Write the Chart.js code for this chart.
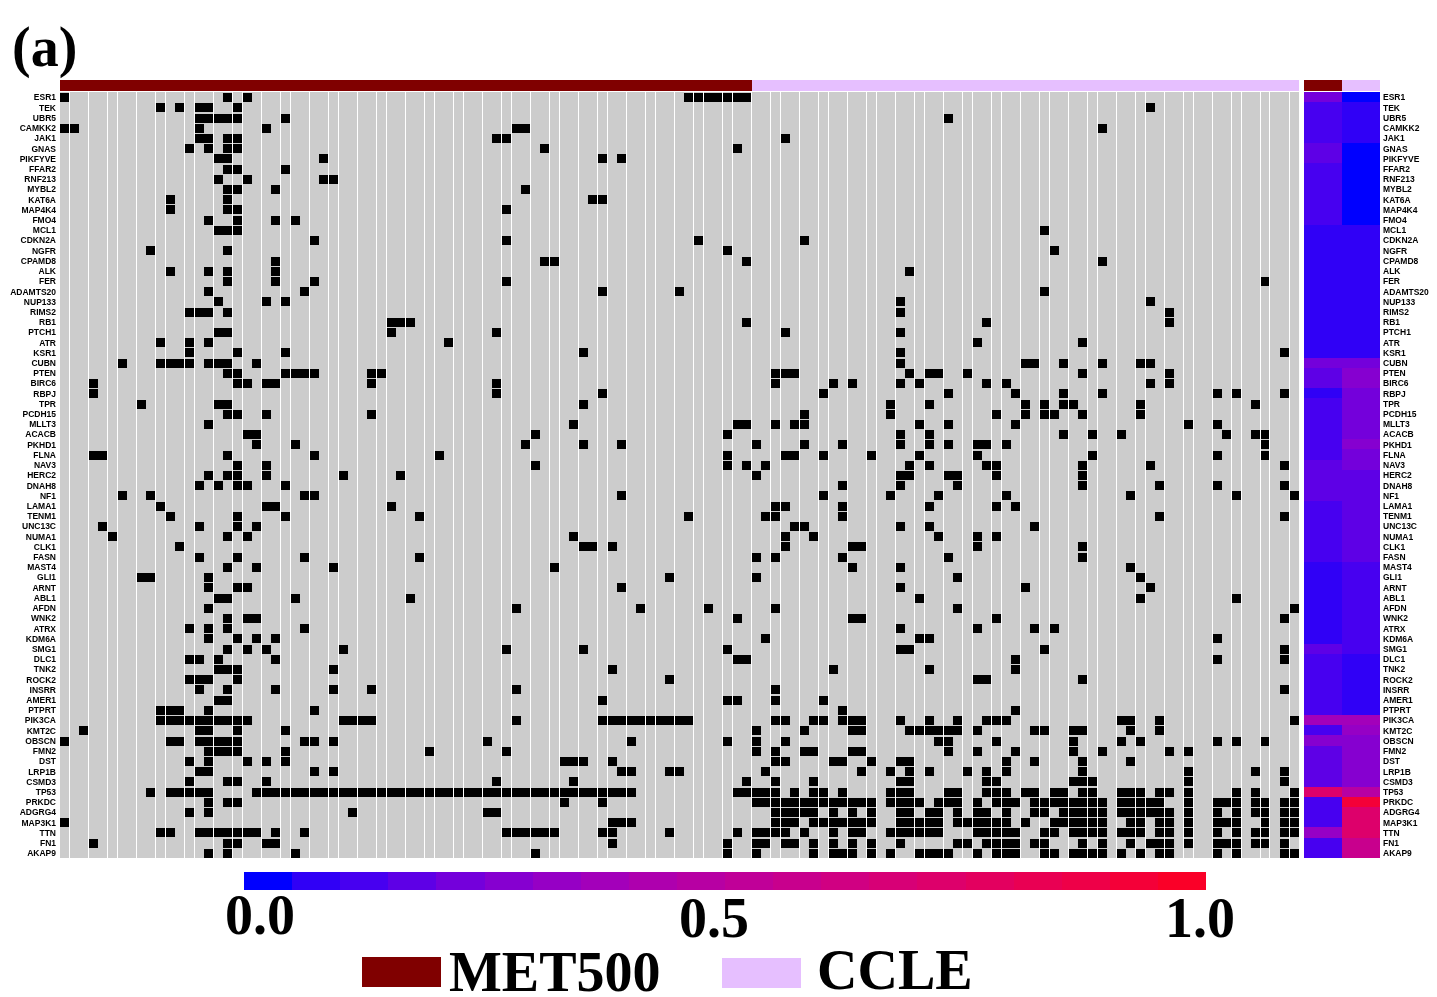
<!DOCTYPE html>
<html lang="en">
<head>
<meta charset="UTF-8">
<title>MET500 vs CCLE mutations</title>
<script src="https://cdn.jsdelivr.net/npm/chart.js@4"></script>
<style>
    html, body { margin: 0; background: #fff; overflow: hidden; }
    body { width: 1437px; height: 997px; position: relative; }
    canvas { position: absolute; }
    .big { position: absolute; font: bold 56px/56px 'Liberation Serif', serif; color: #000; white-space: nowrap; }
    .swatch { position: absolute; width: 79px; height: 30px; }
</style>
</head>
<body>
<span class="big" style="left:12px;top:19px">(a)</span>

<canvas id="annoMain" width="1239" height="11" style="left:60px;top:80px"></canvas>
<canvas id="annoSide" width="76" height="11" style="left:1304px;top:80px"></canvas>
<canvas id="main" width="1299" height="766" style="left:0;top:92px"></canvas>
<canvas id="side" width="133" height="766" style="left:1304px;top:92px"></canvas>
<canvas id="colorbar" width="962" height="18" style="left:244px;top:872px"></canvas>

<span class="big" id="tick0" style="top:887px"></span>
<span class="big" id="tick1" style="top:890px"></span>
<span class="big" id="tick2" style="top:890px"></span>

<div class="swatch" style="left:362px;top:957px;background:#800000"></div>
<span class="big" id="legend0" style="left:449px;top:944px"></span>
<div class="swatch" style="left:722px;top:958px;background:#E6BFFF"></div>
<span class="big" id="legend1" style="left:817px;top:942px"></span>

<script>
const genes = ["ESR1","TEK","UBR5","CAMKK2","JAK1","GNAS","PIKFYVE","FFAR2","RNF213","MYBL2","KAT6A","MAP4K4","FMO4","MCL1","CDKN2A","NGFR","CPAMD8","ALK","FER","ADAMTS20","NUP133","RIMS2","RB1","PTCH1","ATR","KSR1","CUBN","PTEN","BIRC6","RBPJ","TPR","PCDH15","MLLT3","ACACB","PKHD1","FLNA","NAV3","HERC2","DNAH8","NF1","LAMA1","TENM1","UNC13C","NUMA1","CLK1","FASN","MAST4","GLI1","ARNT","ABL1","AFDN","WNK2","ATRX","KDM6A","SMG1","DLC1","TNK2","ROCK2","INSRR","AMER1","PTPRT","PIK3CA","KMT2C","OBSCN","FMN2","DST","LRP1B","CSMD3","TP53","PRKDC","ADGRG4","MAP3K1","TTN","FN1","AKAP9"];

const groups = ["MET500","CCLE"];
const groupSizes = [72, 57];
const groupColors = ["#800000","#E6BFFF"];

// samples carrying a mutation, one list per gene (same order as genes)
const mutated = [
[0,17,19,65,66,67,68,69,70,71],
[10,12,14,15,18,113],
[14,15,16,17,18,23,92],
[0,1,14,21,47,48,108],
[14,15,17,18,45,46,75],
[13,15,17,18,50,70],
[16,17,27,56,58],
[17,18,23],
[16,19,27,28],
[17,18,22,48],
[11,17,55,56],
[11,17,18,46],
[15,18,22,24],
[16,17,18,102],
[26,46,66,77],
[9,17,69,103],
[22,50,51,71,108],
[11,15,17,22,88],
[17,22,26,46,125],
[15,25,56,64,102],
[16,21,23,87,113],
[13,14,15,17,87,115],
[34,35,36,71,96,115],
[16,17,34,45,75,87],
[10,13,15,40,95,106],
[13,18,23,54,87,127],
[6,10,11,12,13,15,16,17,20,87,100,101,104,108,112,113],
[17,18,23,24,25,26,32,33,74,75,76,88,90,91,94,106,115],
[3,18,19,21,22,32,45,74,80,82,87,89,96,98,113,115],
[3,45,56,79,92,99,104,108,120,122,127],
[8,16,17,54,86,90,100,102,104,105,112,124],
[17,18,21,32,77,86,97,100,102,103,106,112],
[15,53,70,71,74,76,77,89,92,99,117,120],
[19,20,49,69,87,90,104,107,110,121,124,125],
[20,24,48,54,58,72,77,81,87,90,92,95,96,98,125],
[3,4,17,26,39,69,75,76,79,84,89,95,107,120,125],
[18,21,49,69,71,73,88,90,96,97,106,113,127],
[15,17,18,21,29,35,72,87,88,92,93,97,106],
[14,16,18,19,23,81,87,93,106,114,120,127],
[6,9,25,26,58,79,86,91,98,111,122,128],
[10,21,22,34,74,75,81,90,97,99],
[11,18,23,37,65,73,74,81,114,127],
[4,14,18,20,76,77,87,90,101],
[5,17,19,53,75,78,91,95,97],
[12,54,55,57,75,82,83,95,106],
[14,18,25,37,72,74,81,92,106],
[17,20,28,51,82,87,111],
[8,9,15,63,72,93,112],
[15,18,19,58,87,100,113],
[16,17,24,36,89,112,122],
[15,47,60,67,74,93,128],
[17,19,20,70,82,83,97,127],
[13,15,17,25,87,95,101,103],
[15,18,20,22,73,89,90,120],
[17,19,21,29,46,54,69,87,88,102,127],
[13,14,16,22,70,71,99,120,127],
[16,17,18,28,57,80,90,99],
[13,14,15,18,63,95,96,106],
[14,17,22,28,32,47,74,127],
[16,17,56,69,70,74,79],
[10,11,12,15,26,81,99],
[10,11,12,13,14,15,16,17,18,19,29,30,31,32,47,56,57,58,59,60,61,62,63,64,65,74,75,78,79,81,82,83,87,90,93,96,97,98,110,111,114,128],
[2,14,15,18,23,72,77,82,83,88,89,90,91,92,93,95,101,102,105,106,111,114],
[0,11,12,14,15,16,17,18,25,26,28,44,59,69,72,75,91,92,97,105,110,112,120,122,125],
[15,16,17,18,23,38,46,72,74,77,78,82,83,92,95,99,105,108,115,117],
[13,15,19,21,23,52,53,54,57,74,75,80,81,84,87,88,98,101,106,111],
[14,15,26,28,58,59,63,64,73,83,86,88,90,94,96,98,106,117,124,127],
[13,17,18,21,45,53,71,74,78,87,88,96,97,105,106,107,117,127],
[9,11,12,13,14,15,20,21,22,23,24,25,26,27,28,29,30,31,32,33,34,35,36,37,38,39,40,41,42,43,44,45,46,47,48,49,50,51,52,53,54,55,56,57,58,59,70,71,72,73,74,76,78,79,81,86,87,88,92,93,96,97,98,100,101,103,104,106,107,110,111,112,114,115,117,122,124,128],
[15,17,18,52,56,72,73,74,75,76,77,78,79,80,81,82,83,84,86,87,88,89,91,92,93,95,97,98,99,101,102,103,104,105,106,107,108,110,111,112,113,114,117,120,121,122,124,125,127,128],
[13,15,30,44,45,74,75,76,77,78,80,82,84,87,88,90,91,93,95,96,98,101,102,104,105,106,107,108,110,111,112,113,114,115,117,120,122,124,125,127,128],
[0,57,58,59,74,75,76,78,79,80,81,82,83,84,87,88,89,90,91,93,94,95,96,97,98,100,103,104,105,106,107,108,111,112,114,115,117,120,121,122,125,127,128],
[10,11,14,15,16,17,18,19,20,22,25,46,47,48,49,50,51,56,57,63,70,72,73,74,75,77,80,82,83,86,87,88,89,90,91,95,96,97,98,99,102,103,105,106,107,108,110,111,112,114,115,117,120,122,124,125,127,128],
[3,17,18,21,22,57,69,72,73,75,76,78,80,82,84,87,93,94,96,97,98,99,101,102,106,108,111,113,114,115,117,120,121,122,124,125,127],
[15,17,24,49,69,72,78,80,81,82,84,86,89,90,91,92,95,97,98,99,102,103,105,106,107,108,110,112,114,115,120,122,127,128]
];

// mutation frequency per gene in each cohort
const freqMet500 = [.22,.13,.13,.13,.13,.16,.16,.1,.1,.1,.1,.1,.1,.08,.08,.08,.08,.08,.08,.08,.08,.08,.08,.08,.08,.08,.22,.18,.18,.07,.11,.1,.1,.1,.13,.13,.16,.16,.16,.16,.11,.1,.1,.1,.1,.1,.08,.08,.08,.08,.08,.08,.08,.08,.17,.13,.13,.13,.13,.13,.13,.38,.11,.27,.16,.18,.18,.18,.73,.11,.1,.1,.33,.13,.13];
const freqCcle = [0,.07,.07,.07,.07,0,0,0,0,0,0,0,0,.07,.07,.07,.07,.07,.07,.07,.07,.07,.07,.07,.07,.07,.2,.26,.26,.23,.23,.22,.22,.22,.27,.22,.22,.18,.18,.18,.16,.16,.16,.16,.16,.16,.1,.1,.1,.1,.1,.11,.11,.11,.11,.08,.08,.08,.06,.06,.06,.36,.33,.26,.27,.26,.26,.26,.48,.93,.73,.73,.73,.57,.57];

const colorSteps = ["#0000FF","#3000F6","#4700F0","#5E00E6","#7400DB","#8600D0","#9600C5","#A300BA","#AE00AE","#B700A3","#C00098","#C8008D","#D00082","#D70076","#DD006B","#E3005F","#E90053","#EE0048","#F40038","#FA0028"];
const colorTicks = ["0.0","0.5","1.0"];

// white seams between sample columns, as they fall in the figure
const seamCols = [1,3,5,6,8,10,11,13,14,16,18,19,21,23,24,26,28,29,31,33,34,36,38,39,41,42,44,46,47,49,51,52,54,56,57,59,61,62,64,66,67,69,70,72,74,75,77,79,80,82,84,85,87,89,90,92,94,95,97,98,100,102,103,105,107,108,110,112,113,115,117,118,120,122,123,125,126,128];

const stepColor = v => colorSteps[Math.min(colorSteps.length - 1, Math.floor(v * colorSteps.length))];

// bars land on whole pixels so the cells stay crisp like the original raster
function snapBars(chart, fixedHeight) {
    chart.getSortedVisibleDatasetMetas().forEach(meta => {
        meta.data.forEach(el => {
            const top = Math.round(el.y - el.height / 2 + (fixedHeight ? 0.5 : 0));
            const bottom = fixedHeight ? top + fixedHeight : Math.round(el.y + el.height / 2);
            el.y = (top + bottom) / 2;
            el.height = bottom - top;
            el.x = Math.round(el.x);
            el.base = Math.round(el.base);
        });
    });
}

// gene axis: fixed gutter, and no room kept for half a label above and below
function fitGeneAxis(axis, width) {
    axis.width = width;
    axis.paddingTop = 0;
    axis.paddingBottom = 0;
}

const baseOptions = {
    indexAxis: "y",
    responsive: false,
    animation: false,
    devicePixelRatio: 1,
    events: [],
    layout: { padding: 0 },
    plugins: { legend: { display: false }, tooltip: { enabled: false } }
};
const barStyle = { borderWidth: 0, inflateAmount: 0, barPercentage: 1, grouped: false };
const geneFont = { family: "'Liberation Sans', Arial, sans-serif", size: 8.5, weight: "bold" };

// Thin strip of consecutive coloured segments (annotation bars, colour scale)
function strip(id, sizes, colors) {
    let pos = 0;
    const data = sizes.map(s => { const seg = { x: [pos, pos + s], y: "a" }; pos += s; return seg; });
    new Chart(document.getElementById(id), {
        type: "bar",
        data: { labels: ["a"], datasets: [{ data, backgroundColor: colors, categoryPercentage: 1, ...barStyle }] },
        options: {
            ...baseOptions,
            scales: {
                x: { type: "linear", display: false, min: 0, max: pos },
                y: { type: "category", display: false }
            }
        },
        plugins: [{ id: "snap", afterDatasetsUpdate: c => snapBars(c) }]
    });
}

strip("annoMain", groupSizes, groupColors);
strip("annoSide", [1, 1], groupColors);
strip("colorbar", colorSteps.map(() => 1), colorSteps);

// Main mutation matrix
const cells = [];
mutated.forEach((cols, r) => cols.forEach(c => cells.push({ x: [c, c + 1], y: genes[r] })));

new Chart(document.getElementById("main"), {
    type: "bar",
    data: {
        labels: genes,
        datasets: [{ data: cells, backgroundColor: "#000", categoryPercentage: 0.88, ...barStyle }]
    },
    options: {
        ...baseOptions,
        scales: {
            x: {
                type: "linear",
                min: 0.04,
                max: 129.02,
                border: { display: false },
                ticks: { display: false, autoSkip: false },
                grid: { color: "#fff", lineWidth: 1, drawTicks: false, z: 1 },
                afterBuildTicks: axis => { axis.ticks = seamCols.map(value => ({ value })); }
            },
            y: {
                type: "category",
                border: { display: false },
                grid: { display: false, drawTicks: false },
                ticks: { autoSkip: false, padding: 4, labelOffset: 1, color: "#000", font: geneFont },
                afterFit: axis => fitGeneAxis(axis, 60)
            }
        }
    },
    plugins: [{
        id: "greyGround",
        afterDatasetsUpdate: c => snapBars(c, 9),
        beforeDatasetsDraw: c => {
            const a = c.chartArea;
            c.ctx.fillStyle = "#CCCCCC";
            c.ctx.fillRect(a.left, a.top, a.right - a.left, a.bottom - a.top);
        }
    }]
});

// Side panel: mutation frequency per cohort
new Chart(document.getElementById("side"), {
    type: "bar",
    data: {
        labels: genes,
        datasets: [freqMet500, freqCcle].map((freq, col) => ({
            data: freq.map((v, r) => ({ x: [col, col + 1], y: genes[r] })),
            backgroundColor: freq.map(stepColor),
            categoryPercentage: 1,
            ...barStyle
        }))
    },
    options: {
        ...baseOptions,
        scales: {
            x: { type: "linear", display: false, min: 0, max: 2 },
            y: {
                type: "category",
                position: "right",
                border: { display: false },
                grid: { display: false, drawTicks: false },
                ticks: { autoSkip: false, padding: 3, labelOffset: 1, color: "#000", font: geneFont },
                afterFit: axis => fitGeneAxis(axis, 57)
            }
        }
    },
    plugins: [{ id: "snap", afterDatasetsUpdate: c => snapBars(c) }]
});

// Large text around the colour scale
const tickCentres = [260, 714, 1200];
colorTicks.forEach((t, i) => {
    const el = document.getElementById("tick" + i);
    el.textContent = t;
    el.style.left = tickCentres[i] + "px";
    el.style.transform = "translateX(-50%)";
});
groups.forEach((g, i) => { document.getElementById("legend" + i).textContent = g; });
</script>
</body>
</html>
